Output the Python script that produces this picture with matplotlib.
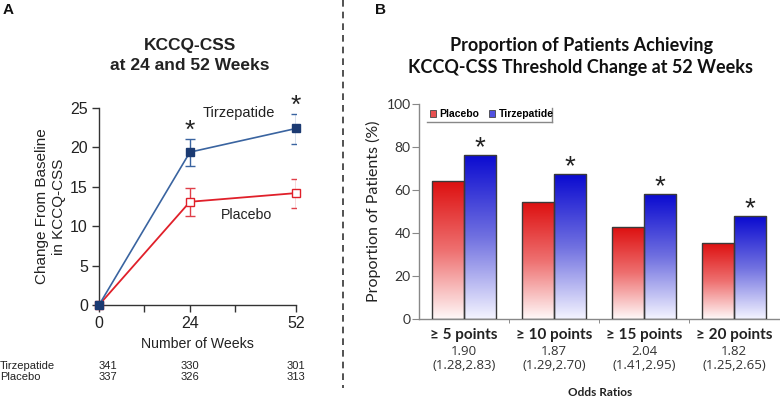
import numpy as np
import matplotlib
matplotlib.use("Agg")
import matplotlib.pyplot as plt
from matplotlib.colors import LinearSegmentedColormap
from matplotlib.patches import Patch
from matplotlib.lines import Line2D

# ---------------- data ----------------
weeks = [0, 24, 52]
tirz_mean = [0, 19.4, 22.4]
tirz_lo = [0, 17.6, 20.4]
tirz_hi = [0, 21.1, 24.3]
plac_mean = [0, 13.1, 14.2]
plac_lo = [0, 11.3, 12.3]
plac_hi = [0, 14.8, 16.0]
n_tirz = ["341", "330", "301"]
n_plac = ["337", "326", "313"]

thresholds = ["\u2265 5 points", "\u2265 10 points", "\u2265 15 points", "\u2265 20 points"]
prop_placebo = [64.0, 54.3, 42.6, 35.3]
prop_tirz = [76.3, 67.3, 58.1, 47.9]
odds_point = ["1.90", "1.87", "2.04", "1.82"]
odds_ci = ["(1.28,2.83)", "(1.29,2.70)", "(1.41,2.95)", "(1.25,2.65)"]

plt.rcParams['font.family'] = ['Liberation Sans', 'DejaVu Sans']

W, H = 780, 398
fig = plt.figure(figsize=(W / 100, H / 100), dpi=100)

def px_axes(l, t, r, b):
    return fig.add_axes([l / W, 1 - b / H, (r - l) / W, (b - t) / H])

def fy(py):
    return 1 - py / H

BLUE_L = '#3a64a0'
BLUE_M = '#1b3a72'
RED = '#e0202a'

# ---------------- Panel A ----------------
axA = px_axes(99, 108, 296, 305)
axA.plot(weeks, plac_mean, color=RED, lw=1.3, zorder=3, clip_on=False)
axA.errorbar(weeks[1:], plac_mean[1:],
             yerr=[np.subtract(plac_mean, plac_lo)[1:], np.subtract(plac_hi, plac_mean)[1:]],
             fmt='none', ecolor='#e0404a', elinewidth=1.0, capsize=3.5, capthick=1.0, zorder=3)
axA.plot(weeks, plac_mean, ls='none', marker='s', ms=6, mfc='white', mec=RED, mew=1.0,
         zorder=4, clip_on=False)
axA.plot(weeks, tirz_mean, color=BLUE_L, lw=1.2, zorder=5, clip_on=False)
axA.errorbar(weeks[1:], tirz_mean[1:],
             yerr=[np.subtract(tirz_mean, tirz_lo)[1:], np.subtract(tirz_hi, tirz_mean)[1:]],
             fmt='none', ecolor=BLUE_L, elinewidth=1.0, capsize=3.5, capthick=1.0, zorder=5)
axA.plot(weeks, tirz_mean, ls='none', marker='s', ms=6, mfc=BLUE_M, mec=BLUE_M,
         zorder=6, clip_on=False)
axA.set_xlim(0, 52)
axA.set_ylim(0, 25)
axA.set_xticks([0, 12, 24, 36, 52])
axA.set_xticklabels(['0', '', '24', '', '52'])
axA.set_yticks([0, 5, 10, 15, 20, 25])
for s in ['top', 'right']:
    axA.spines[s].set_visible(False)
for s in ['left', 'bottom']:
    axA.spines[s].set_color('#333333')
    axA.spines[s].set_linewidth(1.0)
axA.tick_params(direction='out', length=5, width=1.0, colors='#333333',
                labelsize=11.5, labelcolor='#222222', pad=3)
axA.set_xlabel('Number of Weeks', fontsize=10.2, color='#222222', labelpad=4)
axA.set_ylabel('Change From Baseline\nin KCCQ-CSS', fontsize=11, color='#222222',
               labelpad=3, linespacing=1.3)
# asterisks
for i in (1, 2):
    axA.text(weeks[i], tirz_hi[i] + 0.05, '*', ha='center', va='baseline', fontsize=19,
             color='#222222')
axA.text(37, 24.4, 'Tirzepatide', ha='center', va='center', fontsize=10.5, color='#222222')
axA.text(39, 11.4, 'Placebo', ha='center', va='center', fontsize=10.2, color='#222222')

fig.text(190 / W, fy(55.5), 'KCCQ-CSS\nat 24 and 52 Weeks', ha='center', va='center',
         fontsize=12.5, fontweight='bold', color='#222222', linespacing=1.45)
fig.text(8 / W, fy(10), 'A', ha='center', va='center', fontsize=11,
         fontweight='bold', color='#111111')

# number at risk
fig.canvas.draw()
xt = [axA.transData.transform((w, 0))[0] for w in weeks]
for j, (lab, vals) in enumerate([('Tirzepatide', n_tirz), ('Placebo', n_plac)]):
    y = fy(366 + 11 * j)
    fig.text(0 / W, y, lab, ha='left', va='center', fontsize=8, color='#222222')
    for k, (x, v) in enumerate(zip(xt, vals)):
        fig.text(x / W, y, v, ha='left' if k == 0 else 'center', va='center',
                 fontsize=8, color='#222222')

# dashed separator
fig.add_artist(Line2D([343 / W, 343 / W], [fy(0), fy(388)],
                      transform=fig.transFigure, color='#333333', lw=1.2,
                      ls=(0, (4, 3))))

# ---------------- Panel B ----------------
RF = ['Lato', 'DejaVu Sans']
OF = ['Open Sans', 'DejaVu Sans']
axB = px_axes(419, 104, 779, 319)
x = np.arange(len(thresholds))
bw = 0.356
bars_p = axB.bar(x - bw / 2, prop_placebo, bw, facecolor='none', edgecolor='#3a3a3a',
                 lw=1.0, zorder=3)
bars_t = axB.bar(x + bw / 2, prop_tirz, bw, facecolor='none', edgecolor='#3a3a3a',
                 lw=1.0, zorder=3)
cm_red = LinearSegmentedColormap.from_list('r', ['#fff8f8', '#ee7070', '#dd1010'])
cm_blue = LinearSegmentedColormap.from_list('b', ['#f4f4ff', '#7070e0', '#0a0ad0'])
grad = np.linspace(0, 1, 256).reshape(-1, 1)
for bars, cm in ((bars_p, cm_red), (bars_t, cm_blue)):
    for b in bars:
        x0, y0 = b.get_x(), b.get_y()
        w, h = b.get_width(), b.get_height()
        im = axB.imshow(grad, cmap=cm, origin='lower', aspect='auto',
                        extent=(x0, x0 + w, y0, y0 + h), zorder=2)
        im.set_clip_path(b)
for i in range(len(x)):
    axB.text(x[i] + bw / 2, prop_tirz[i] + 0.1, '*', ha='center', va='baseline',
             fontsize=20, color='#222222')
axB.set_xlim(-0.5, len(x) - 0.5)
axB.set_ylim(0, 100)
axB.set_yticks([0, 20, 40, 60, 80, 100])
axB.set_xticks(x)
axB.set_xticklabels([])
axB.set_xticks([0.5, 1.5, 2.5], minor=True)
axB.tick_params(axis='x', which='major', length=0)
axB.tick_params(axis='x', which='minor', length=3, direction='out', colors='#777777')
axB.tick_params(axis='y', direction='out', length=5, colors='#888888', labelsize=10,
                labelcolor='#333333', pad=1)
for lab in axB.get_yticklabels():
    lab.set_family(RF)
for s in ['top', 'right']:
    axB.spines[s].set_visible(False)
for s in ['left', 'bottom']:
    axB.spines[s].set_color('#888888')
    axB.spines[s].set_linewidth(1.0)
axB.set_ylabel('Proportion of Patients (%)', fontsize=11.5, color='#222222', labelpad=4,
               family=RF)
for i in range(len(x)):
    axB.text(x[i], -4.3, thresholds[i], ha='center', va='top',
             fontsize=11, fontweight='bold', color='#222222', family=RF)
    axB.text(x[i], -14.9, odds_point[i], ha='center', va='center', fontsize=9.5,
             color='#333333', family=OF)
    axB.text(x[i], -21.4, odds_ci[i], ha='center', va='center', fontsize=9.5,
             color='#333333', family=OF)
fig.text(600 / W, fy(393), 'Odds Ratios', ha='center', va='center', fontsize=8.5,
         fontweight='bold', color='#222222', family=RF)

# legend
handles = [Patch(facecolor='#e85050', edgecolor='#444444', lw=0.6, label='Placebo'),
           Patch(facecolor='#5050e0', edgecolor='#444444', lw=0.6, label='Tirzepatide')]
axB.legend(handles=handles, loc='upper left', bbox_to_anchor=(0.03, 0.975), ncol=2,
           frameon=False, handlelength=0.6, handleheight=0.6,
           handletextpad=0.35, columnspacing=0.9, borderaxespad=0, borderpad=0,
           prop={'family': ['Liberation Sans', 'DejaVu Sans'], 'weight': 'bold',
                 'size': 7.5})
axB.plot([0.022, 0.37], [0.916, 0.916], transform=axB.transAxes, color='#888888',
         lw=1.0, clip_on=False)
axB.plot([0.37, 0.37], [0.916, 0.981], transform=axB.transAxes, color='#888888',
         lw=1.0, clip_on=False)

fig.text(581 / W, fy(56.5), 'Proportion of Patients Achieving\nKCCQ-CSS Threshold Change at 52 Weeks',
         ha='center', va='center', fontsize=13, fontweight='bold', color='#111111',
         family=RF, linespacing=1.35)
fig.text(380 / W, fy(10), 'B', ha='center', va='center', fontsize=11,
         fontweight='bold', color='#111111')

fig.savefig('out.png', dpi=100)
